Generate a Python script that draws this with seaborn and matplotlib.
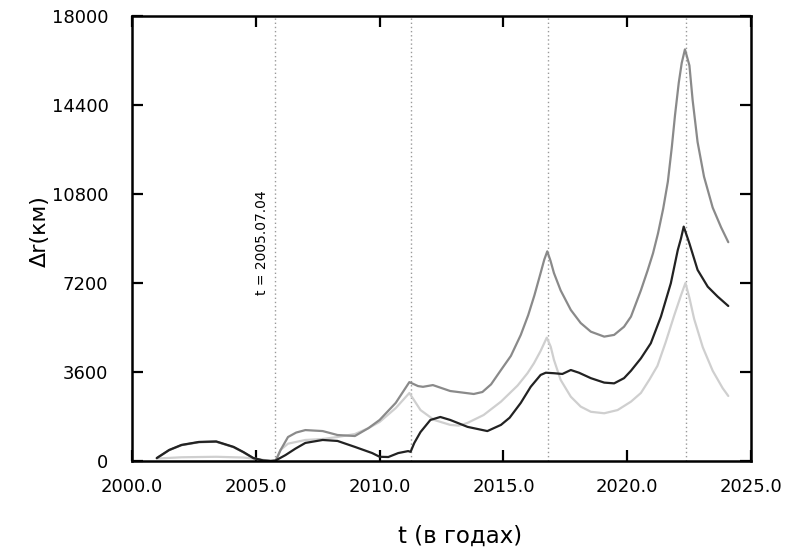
import pandas as pd
import matplotlib
matplotlib.use("Agg")
import matplotlib.pyplot as plt
import seaborn as sns

# Data
t_dark = [2001.0, 2001.5, 2002.0, 2002.7, 2003.4, 2004.1, 2004.5, 2004.9, 2005.3, 2005.6,
          2005.8, 2006.2, 2006.6, 2007.0, 2007.7, 2008.3, 2009.0, 2009.7, 2010.0, 2010.35,
          2010.75, 2011.15, 2011.25, 2011.4, 2011.65, 2012.05, 2012.45, 2012.85, 2013.55, 2014.35,
          2014.9, 2015.25, 2015.7, 2016.1, 2016.5, 2016.71, 2017.04, 2017.38, 2017.72, 2018.05,
          2018.53, 2019.07, 2019.47, 2019.87, 2020.15, 2020.55, 2020.95, 2021.36, 2021.76, 2022.04,
          2022.17, 2022.28, 2022.51, 2022.84, 2023.25, 2023.65, 2024.08]
r_dark = [120, 445, 650, 770, 790, 570, 360, 120, 20, 0,
          20, 240, 500, 730, 850, 810, 570, 320, 170, 160,
          320, 400, 370, 730, 1170, 1660, 1780, 1660, 1380, 1210,
          1460, 1750, 2350, 3000, 3480, 3570, 3550, 3520, 3680, 3570,
          3350, 3170, 3140, 3350, 3650, 4150, 4760, 5840, 7190, 8530,
          9000, 9480, 8800, 7730, 7050, 6650, 6270]

t_mid = [2001.0, 2001.5, 2002.0, 2002.7, 2003.4, 2004.1, 2004.5, 2004.9, 2005.3, 2005.6,
         2005.8, 2006.0, 2006.3, 2006.63, 2007.0, 2007.7, 2008.3, 2009.0, 2009.55, 2010.0,
         2010.65, 2011.2, 2011.55, 2011.75, 2012.15, 2012.85, 2013.8, 2014.15, 2014.5, 2014.9,
         2015.3, 2015.7, 2016.0, 2016.25, 2016.5, 2016.65, 2016.77, 2016.9, 2017.04, 2017.31,
         2017.72, 2018.12, 2018.53, 2019.07, 2019.47, 2019.87, 2020.15, 2020.55, 2020.82, 2021.04,
         2021.24, 2021.45, 2021.64, 2021.8, 2021.93, 2022.08, 2022.2, 2022.33, 2022.51, 2022.64,
         2022.84, 2023.1, 2023.45, 2023.79, 2024.08]
r_mid = [110, 440, 640, 760, 780, 560, 350, 110, 20, 0,
         10, 445, 970, 1150, 1250, 1210, 1050, 1010, 1330, 1660,
         2350, 3190, 3030, 3000, 3070, 2830, 2710, 2790, 3100, 3680,
         4250, 5100, 5900, 6700, 7600, 8150, 8480, 8100, 7600, 6900,
         6110, 5580, 5230, 5030, 5100, 5430, 5840, 6900, 7700, 8400,
         9200, 10200, 11300, 12700, 14000, 15300, 16100, 16650, 16000, 14600,
         12900, 11500, 10250, 9450, 8850]

t_light = [2001.0, 2002.0, 2003.4, 2004.5, 2005.2, 2005.6, 2005.8, 2006.0, 2006.3, 2007.0,
           2007.7, 2008.3, 2009.0, 2009.55, 2010.0, 2010.65, 2011.2, 2011.65, 2012.2, 2012.85,
           2013.2, 2013.55, 2014.2, 2014.9, 2015.57, 2015.97, 2016.23, 2016.5, 2016.75, 2016.91,
           2017.04, 2017.31, 2017.72, 2018.12, 2018.53, 2019.07, 2019.61, 2020.15, 2020.55, 2020.9,
           2021.22, 2021.55, 2021.9, 2022.17, 2022.35, 2022.51, 2022.7, 2023.05, 2023.45, 2023.85,
           2024.08]
r_light = [100, 150, 170, 140, 60, 0, 0, 450, 700, 850,
           890, 970, 1090, 1330, 1580, 2140, 2750, 2060, 1660, 1460,
           1430, 1540, 1860, 2400, 3050, 3550, 3950, 4450, 4990, 4620,
           4090, 3280, 2600, 2200, 1990, 1930, 2060, 2400, 2750, 3300,
           3850, 4800, 5900, 6700, 7200, 6600, 5750, 4600, 3650, 2950,
           2630]

event_times = [2005.78, 2011.25, 2016.78, 2022.38]
event_label = "t = 2005.07.04"

x_ticks = [2000, 2005, 2010, 2015, 2020, 2025]
y_ticks = [0, 3600, 7200, 10800, 14400, 18000]

df = pd.concat([
    pd.DataFrame({"t": t_light, "dr": r_light, "series": "light"}),
    pd.DataFrame({"t": t_mid, "dr": r_mid, "series": "mid"}),
    pd.DataFrame({"t": t_dark, "dr": r_dark, "series": "dark"}),
])
colors = {"light": "#cfcfcf", "mid": "#8a8a8a", "dark": "#222222"}

sns.set_style("ticks")
plt.rcParams["font.family"] = ["DejaVu Sans"]
plt.rcParams["text.color"] = "black"
plt.rcParams["axes.labelcolor"] = "black"
plt.rcParams["xtick.color"] = "black"
plt.rcParams["ytick.color"] = "black"

fig = plt.figure(figsize=(8.05, 5.55), dpi=100)
ax = fig.add_axes([0.164, 0.1694, 0.769, 0.8018])

for t0 in event_times:
    ax.axvline(t0, color="#999999", linestyle=(0, (1, 2)), linewidth=1.0, zorder=1)

sns.lineplot(data=df, x="t", y="dr", hue="series", palette=colors, estimator=None,
             sort=False, linewidth=1.6, legend=False, ax=ax)

ax.text(2005.26, 6715, event_label, rotation=90, ha="center", va="bottom", fontsize=10)

ax.set_xlim(2000, 2025)
ax.set_ylim(0, 18000)
ax.set_xticks(x_ticks)
ax.set_xticklabels([f"{v:.1f}" for v in x_ticks])
ax.set_yticks(y_ticks)

for s in ax.spines.values():
    s.set_linewidth(1.8)
    s.set_color("black")
    s.set_visible(True)
ax.tick_params(direction="in", length=8, width=1.6, top=True, right=True, labelsize=13)
ax.tick_params(axis="x", pad=12)
ax.tick_params(axis="y", pad=17)

ax.set_xlabel("t (в годах)", fontsize=16.5)
ax.set_ylabel("Δr(км)", fontsize=16)
ax.xaxis.set_label_coords(0.53, -0.144)
ax.yaxis.set_label_coords(-0.132, 0.516)

fig.savefig("out.png", dpi=100)
